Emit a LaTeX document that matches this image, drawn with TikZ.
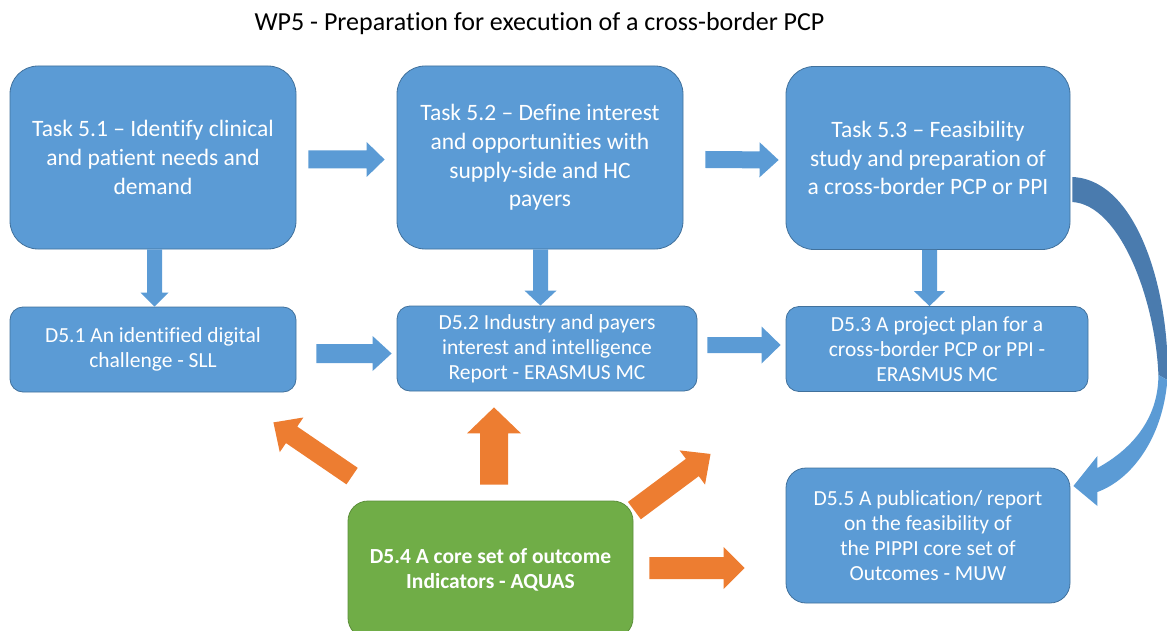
\documentclass[tikz,border=0pt]{standalone}
\usepackage{fontspec}
\setmainfont{Carlito}[Ligatures=NoCommon]
\usetikzlibrary{calc}

\definecolor{boxblue}{HTML}{5B9BD5}
\definecolor{boxline}{HTML}{41719C}
\definecolor{ribbondark}{HTML}{4A7BAE}
\definecolor{outorange}{HTML}{ED7D31}
\definecolor{outgreen}{HTML}{70AD47}
\definecolor{greenline}{HTML}{5C8F3A}

\tikzset{
  taskbox/.style={draw=boxline, line width=0.8pt, fill=boxblue, rounded corners=28pt,
    minimum width=285pt, minimum height=183pt, inner sep=0pt, text=white, align=center,
    font=\fontsize{23.5}{28.7}\selectfont},
  delivbox/.style={draw=boxline, line width=0.8pt, fill=boxblue, rounded corners=13pt,
    minimum height=85pt, inner sep=0pt, text=white, align=center,
    font=\fontsize{21.5}{25}\selectfont},
}

% block arrow: start, end, half shaft, half head, head length, colour
\newcommand\blockarrow[6]{%
  \fill[#6] let \p1=#1, \p2=#2, \n1={atan2(\y2-\y1,\x2-\x1)}, \n2={veclen(\x2-\x1,\y2-\y1)} in
    [shift={(\p1)}, rotate=\n1] (0,-#3) -- (\n2-#5,-#3) -- (\n2-#5,-#4) -- (\n2,0)
    -- (\n2-#5,#4) -- (\n2-#5,#3) -- (0,#3) -- cycle;}

\begin{document}
\begin{tikzpicture}[x=1pt, y=1pt]
  \useasboundingbox (0,0) rectangle (1167,-631);

  \node[font=\fontsize{26}{30}\selectfont] (title) at (539.5,-24)
    {WP5 - Preparation for execution of a cross-border PCP};

  % tasks
  \node[taskbox, minimum width=286pt] (t1) at (153,-157.5)
    {Task 5.1 -- Identify clinical\\and patient needs and\\demand};
  \node[taskbox, minimum width=286pt] (t2) at (540,-157.5)
    {Task 5.2 -- Define interest\\and opportunities with\\supply-side and HC\\payers};
  \node[taskbox, minimum width=284pt] (t3) at (928,-158)
    {Task 5.3 -- Feasibility\\study and preparation of\\a cross-border PCP or PPI};

  % deliverables
  \node[delivbox, minimum width=286pt] (d1) at (153,-349.5)
    {D5.1 An identified digital\\challenge - SLL};
  \node[delivbox, minimum width=300pt] (d2) at (547,-348.5)
    {D5.2 Industry and payers\\interest and intelligence\\Report - ERASMUS MC};
  \node[delivbox, minimum width=302pt] (d3) at (937,-349)
    {D5.3 A project plan for a\\cross-border PCP or PPI -\\ERASMUS MC};
  \node[delivbox, minimum width=284pt, minimum height=135pt, rounded corners=20pt] (d5) at (928,-535.5)
    {D5.5 A publication/ report\\on the feasibility of\\the PIPPI core set of\\Outcomes - MUW};
  \node[delivbox, draw=greenline, fill=outgreen, minimum width=285pt, minimum height=137pt,
    rounded corners=20pt, font=\fontsize{21.5}{25}\selectfont\bfseries] (d4) at (490.5,-569.5)
    {D5.4 A core set of outcome\\Indicators - AQUAS};

  % blue arrows
  \blockarrow{($(t1.east)+(12,-2)$)}{($(t2.west)+(-12,-2)$)}{9}{17.5}{18}{boxblue}
  \blockarrow{($(t2.east)+(22,-2)$)}{($(t3.west)+(-7,-2)$)}{8.5}{17.5}{19}{boxblue}
  \blockarrow{($(t1.south)+(1.5,0)$)}{($(d1.north)+(1.5,0)$)}{7.5}{14}{14}{boxblue}
  \blockarrow{($(t2.south)+(0.5,0)$)}{($(t2.south |- d2.north)+(0.5,0)$)}{7.5}{16}{15}{boxblue}
  \blockarrow{($(t3.south)+(1.5,0)$)}{($(t3.south |- d3.north)+(1.5,0)$)}{7.5}{15.5}{15}{boxblue}
  \blockarrow{($(d1.east)+(20,-4)$)}{($(d2.west |- d1.east)+(-5,-4)$)}{9.5}{17.5}{19}{boxblue}
  \blockarrow{($(d2.east)+(10,3.5)$)}{($(d3.west |- d2.east)+(-5,3.5)$)}{8}{18.5}{19}{boxblue}

  % orange arrows
  \blockarrow{($(d4.north)+(3.5,16)$)}{($(d2.south)+(-53,-16)$)}{14}{27}{26}{outorange}
  \blockarrow{($(d4.north west)+(4.5,24.5)$)}{($(d1.south east)+(-23,-30)$)}{10}{21}{22}{outorange}
  \blockarrow{($(d4.north east)+(1,-10)$)}{($(d3.south west)+(-75,-62)$)}{10.8}{21.3}{22.7}{outorange}
  \blockarrow{($(d4.east)+(16,1.5)$)}{($(d4.east -| d5.west)+(-41,1.5)$)}{11}{21}{21}{outorange}

  % curved arrow t3 -> d5
  \begin{scope}[shift={(t3.east)}]
    \fill[ribbondark] (2,-19) .. controls (70,-22) and (100,-142) .. (97,-222)
      -- (88,-217) .. controls (85,-142) and (50,-47) .. (2,-44) -- cycle;
    \fill[boxblue] (97,-222) .. controls (92,-282) and (60,-322) .. (27,-334)
      -- (27,-348) -- (3,-328) -- (27,-298) -- (27,-310)
      .. controls (60,-292) and (88,-262) .. (88,-217) -- cycle;
  \end{scope}
\end{tikzpicture}
\end{document}
